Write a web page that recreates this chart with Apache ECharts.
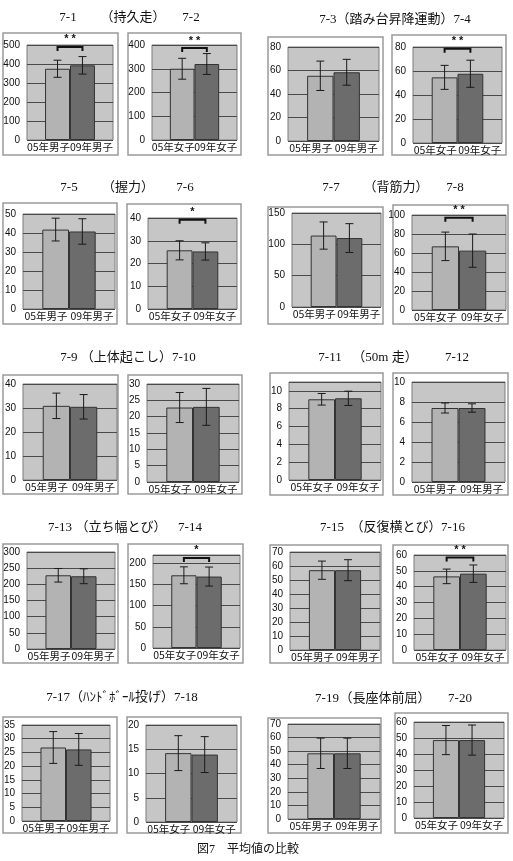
<!DOCTYPE html>
<html><head><meta charset="utf-8">
<script src="https://cdn.jsdelivr.net/npm/echarts@6/dist/echarts.min.js"></script>
<style>html,body{margin:0;padding:0;background:#fff}#c{width:513px;height:861px}</style>
</head><body><div id="c"></div>
<script>
// ---- data ----
const panelIds = ['7-1','7-2','7-3','7-4','7-5','7-6','7-7','7-8','7-9','7-10','7-11','7-12','7-13','7-14','7-15','7-16','7-17','7-18','7-19','7-20'];
const sexLabel = ['男子','女子','男子','女子','男子','女子','男子','女子','男子','女子','女子','男子','男子','女子','男子','女子','男子','女子','男子','女子'];
const mean05 = [375,300,55.5,54.7,41.8,25.8,114,67,30.9,22.8,9.06,7.4,228,172,57,46.5,26.8,14.2,48.4,48.7];
const mean09 = [393,320,58.5,57.7,40.8,25.3,110,62.5,30.5,23.0,9.17,7.4,225,169,57,48.2,26.1,13.9,48.4,48.7];
const sd05 = [45,44,12.5,10,6,4.2,21.7,15,5.3,4.6,0.65,0.5,21,20,6.5,4.6,5.8,3.6,11.2,9.1];
const sd09 = [46,44,11,11.3,6.7,3.8,23,17.5,5.1,5.65,0.8,0.42,23,22.5,7.5,5.5,5.8,3.7,11.2,9.4];
const yMax = [500,400,80,80,50,40,150,100,40,30,11,10,300,220,70,60,35,20,70,60];
const yStep = [100,100,20,20,10,10,50,20,10,5,2,2,50,50,10,10,5,5,10,10];
const sigMark = ['**','**','','**','','*','','**','','','','','','*','','**','','','',''];
const sigLevel = [490,387,null,78.5,null,39.2,null,97,null,null,null,null,null,213,null,58.5,null,null,null,null];
const titleTexts = [
  ['7-1',68,18],['（持久走）',133,18],['7-2',191,18],
  ['7-3（踏み台昇降運動）7-4',395,20],
  ['7-5',69,188],['（握力）',128,188],['7-6',185,188],
  ['7-7',331,188],['（背筋力）',396,188],['7-8',455,188],
  ['7-9 （上体起こし）7-10',128,358],
  ['7-11',330,358],['（50m 走）',385,358],['7-12',457,358],
  ['7-13',60,528],['（立ち幅とび）',121,528],['7-14',190,528],
  ['7-15',332,528],['（反復横とび）',396,528],['7-16',453,528],
  ['7-17（ﾊﾝﾄﾞﾎﾞｰﾙ投げ）7-18',122,698],
  ['7-19',327,699],['（長座体前屈）',385,699],['7-20',460,699]
];
const caption = '図7　平均値の比較';

// ---- layout ----
const plotRects = [
  [27,45,113,140],[152,45,237,140],[288,47,379,141],[413,47,502,143],
  [23,214,115,309],[148,218,237,309],[292,213,381,307],[412,215,506,310],
  [23,384,117,480],[147,384,239,482],[289,382,381,480],[412,382,505,482],
  [27,552,115,649],[153,555,240,648],[290,552,380,650],[414,555,506,650],
  [22,725,110,821],[146,725,237,822],[288,724,380,819],[414,722,504,818]
];
const boxRects = [
  [3,33,118,155],[128,33,241,155],[268,37,383,155],[392,35,506,155],
  [3,203,117,324],[127,204,241,324],[268,207,383,324],[393,205,508,324],
  [3,375,118,494],[128,375,242,494],[270,373,383,495],[393,373,508,495],
  [3,544,118,663],[128,544,243,663],[270,545,381,663],[393,545,508,663],
  [3,717,117,833],[127,717,241,833],[268,718,381,833],[395,713,508,833]
];
const HALF = 0.145;
const serif = "'Liberation Serif','DejaVu Serif','Noto Sans CJK JP',serif";

function renderErr(params, api){
  const side = api.value(3), m = api.value(1), e = api.value(2);
  const band = api.size([1,0])[0];
  const c = api.coord([0, m]);
  const x = c[0] + (side ? 1 : -1) * band * HALF;
  const yt = api.coord([0, m + e])[1], yb = api.coord([0, m - e])[1];
  const w = 4, st = {stroke:'#1a1a1a', lineWidth:1};
  return {type:'group', children:[
    {type:'line', shape:{x1:x,y1:yt,x2:x,y2:yb}, style:st},
    {type:'line', shape:{x1:x-w,y1:yt,x2:x+w,y2:yt}, style:st},
    {type:'line', shape:{x1:x-w,y1:yb,x2:x+w,y2:yb}, style:st}
  ]};
}
function makeSig(mark){
  return function(params, api){
    const lvl = api.value(1);
    const band = api.size([1,0])[0];
    const c = api.coord([0, lvl]);
    const x1 = c[0] - band*HALF, x2 = c[0] + band*HALF, y = c[1];
    return {type:'group', children:[
      {type:'polyline', shape:{points:[[x1,y+4],[x1,y],[x2,y],[x2,y+4]]}, style:{stroke:'#111', lineWidth:2, fill:null}},
      {type:'text', x:(x1+x2)/2, y:y-2, style:{text: mark.split('').join(' '), align:'center', verticalAlign:'bottom', textAlign:'center', textVerticalAlign:'bottom', font:"bold 11px 'Liberation Sans',sans-serif", fill:'#111'}}
    ]};
  };
}

const grids = [], xAxes = [], yAxes = [], series = [], graphics = [];
panelIds.forEach((id, i) => {
  const p = plotRects[i], b = boxRects[i];
  graphics.push({type:'rect', z:-10, shape:{x:b[0], y:b[1], width:b[2]-b[0], height:b[3]-b[1]}, style:{fill:'#fff', stroke:'#9a9a9a', lineWidth:1.5}});
  grids.push({left:p[0], top:p[1], width:p[2]-p[0], height:p[3]-p[1], show:true, backgroundColor:'#c6c6c6', borderColor:'#7a7a7a', borderWidth:1, containLabel:false});
  xAxes.push({type:'category', gridIndex:i, data:[id], show:false});
  xAxes.push({type:'category', gridIndex:i, position:'bottom', data:['05年'+sexLabel[i], '09年'+sexLabel[i]],
    axisLine:{show:false}, axisTick:{show:false}, splitLine:{show:false},
    axisLabel:{interval:0, fontSize:10.5, color:'#111', margin:2, fontFamily:"'Noto Sans CJK JP',sans-serif"}});
  yAxes.push({type:'value', gridIndex:i, min:0, max:yMax[i], interval:yStep[i],
    axisLine:{show:false}, axisTick:{show:false},
    splitLine:{show:true, lineStyle:{color:'#4a4a4a', width:1}},
    axisLabel:{fontSize:10, color:'#111', margin:7, fontFamily:"'Liberation Sans',Arial,sans-serif", showMaxLabel: yMax[i] % yStep[i] === 0}});
  const xi = 2*i;
  series.push({type:'bar', name:'05', xAxisIndex:xi, yAxisIndex:i, data:[mean05[i]], barWidth:'29%', barGap:'0%', silent:true,
    itemStyle:{color:'#b3b3b3', borderColor:'#333', borderWidth:1}});
  series.push({type:'bar', name:'09', xAxisIndex:xi, yAxisIndex:i, data:[mean09[i]], barWidth:'29%', barGap:'0%', silent:true,
    itemStyle:{color:'#6c6c6c', borderColor:'#333', borderWidth:1}});
  series.push({type:'custom', xAxisIndex:xi, yAxisIndex:i, z:3, silent:true, clip:false, renderItem:renderErr,
    encode:{x:0, y:1}, data:[[0, mean05[i], sd05[i], 0],[0, mean09[i], sd09[i], 1]]});
  if (sigMark[i]) {
    series.push({type:'custom', xAxisIndex:xi, yAxisIndex:i, z:4, silent:true, clip:false, renderItem:makeSig(sigMark[i]),
      encode:{x:0, y:1}, data:[[0, sigLevel[i]]]});
  }
});
titleTexts.forEach(t => {
  graphics.push({type:'text', x:t[1], y:t[2], style:{text:t[0], align:'center', verticalAlign:'middle', textAlign:'center', textVerticalAlign:'middle', font:"13px " + serif, fill:'#111'}});
});
graphics.push({type:'text', x:248, y:850, style:{text:caption, align:'center', verticalAlign:'middle', textAlign:'center', textVerticalAlign:'middle', font:"12px " + serif, fill:'#111'}});

const chart = echarts.init(document.getElementById('c'), null, {renderer:'canvas'});
chart.setOption({
  animation:false,
  backgroundColor:'#fff',
  grid:grids, xAxis:xAxes, yAxis:yAxes, series:series,
  graphic:{elements:graphics}
});
</script>
</body></html>
